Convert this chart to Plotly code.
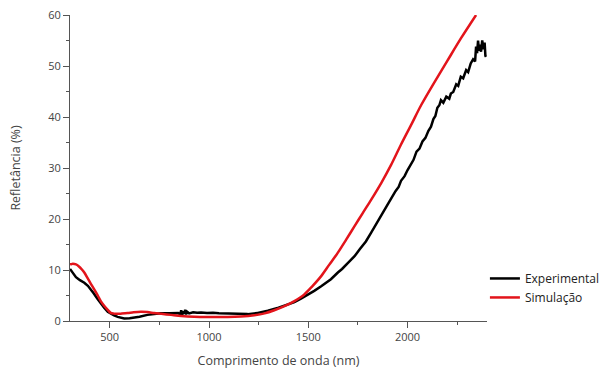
import plotly.graph_objects as go

# Experimental spectrum (wavelength nm, reflectance %)
exp_wl = [300, 315, 330, 350, 372, 390, 405, 420, 439, 455, 472, 490, 505, 522, 540, 560, 573, 600, 623, 650,
          690, 720, 758, 800, 825, 845, 855, 860, 865, 870, 875, 880, 885, 890, 900, 920, 940, 960, 990, 1020,
          1050, 1094, 1140, 1195, 1240, 1296, 1350, 1396, 1430, 1463, 1497, 1530, 1565, 1590, 1614, 1649, 1670,
          1700, 1715, 1733, 1760, 1790, 1816, 1840, 1868, 1880, 1900, 1917, 1940, 1955, 1967, 1985, 2000, 2017,
          2030, 2045, 2060, 2075, 2090, 2105, 2118, 2130, 2140, 2150, 2160, 2168, 2180, 2195, 2210, 2218, 2230,
          2245, 2255, 2268, 2280, 2295, 2305, 2318, 2330, 2340, 2345, 2350, 2355, 2360, 2365, 2370, 2376, 2382,
          2388, 2392, 2395]
exp_r = [10.2, 9.3, 8.6, 8.0, 7.5, 6.9, 6.2, 5.4, 4.3, 3.4, 2.6, 1.8, 1.4, 1.1, 0.8, 0.6, 0.5, 0.55, 0.65, 0.85,
         1.2, 1.35, 1.5, 1.5, 1.5, 1.55, 1.3, 2.1, 1.2, 1.9, 1.4, 2.2, 1.3, 1.8, 1.5, 1.7, 1.6, 1.65, 1.55, 1.6,
         1.5, 1.45, 1.4, 1.35, 1.55, 2.0, 2.6, 3.2, 3.7, 4.4, 5.1, 5.9, 6.8, 7.5, 8.2, 9.5, 10.2,
         11.4, 12.0, 12.7, 14.1, 15.6, 17.3, 18.9, 20.9, 21.8, 23.0, 24.0, 25.5, 26.3, 27.5, 28.4, 29.6, 30.9,
         31.6, 33.2, 33.8, 35.2, 35.9, 37.3, 38.1, 39.6, 40.2, 41.8, 42.3, 43.3, 42.8, 44.0, 43.6, 44.6, 44.9,
         46.4, 46.1, 47.9, 47.6, 49.2, 48.8, 50.5, 51.3, 50.9, 53.8, 52.5, 55.0, 53.0, 54.2, 52.8, 55.0, 53.3,
         54.6, 52.0, 51.8]

# Simulated spectrum
sim_wl = [300, 310, 330, 345, 360, 372, 390, 405, 422, 440, 455, 472, 490, 505, 520, 539, 560, 590, 620, 657,
          690, 724, 760, 809, 860, 926, 1000, 1094, 1160, 1228, 1280, 1329, 1380, 1430, 1480, 1520, 1565, 1605,
          1649, 1690, 1733, 1775, 1817, 1868, 1917, 1967, 2020, 2068, 2135, 2200, 2270, 2345]
sim_r = [11.1, 11.2, 11.1, 10.7, 10.1, 9.5, 8.3, 7.3, 6.2, 5.0, 3.9, 3.0, 2.2, 1.6, 1.45, 1.4, 1.45, 1.55, 1.7, 1.8,
         1.75, 1.55, 1.4, 1.2, 1.0, 0.85, 0.8, 0.8, 0.9, 1.15, 1.5, 2.1, 2.9, 3.9, 5.2, 6.8, 8.8, 11.0,
         13.4, 15.9, 18.6, 21.2, 23.8, 27.1, 30.6, 34.6, 38.6, 42.3, 46.8, 51.0, 55.5, 60.0]

x_ticks = [500, 1000, 1500, 2000]
y_ticks = [0, 10, 20, 30, 40, 50, 60]

FONT = "Open Sans"
GREY = "#444444"

fig = go.Figure()
fig.add_trace(go.Scatter(x=exp_wl, y=exp_r, mode="lines", name="Experimental",
                         line=dict(color="#000000", width=2.5)))
fig.add_trace(go.Scatter(x=sim_wl, y=sim_r, mode="lines", name="Simulação",
                         line=dict(color="#e3141b", width=2.5, shape="spline", smoothing=0.8)))

axis_common = dict(showgrid=False, zeroline=False, showline=True, linecolor="#555555", linewidth=1,
                   ticks="outside", ticklen=6, tickcolor="#555555", tickwidth=1,
                   tickfont=dict(family=FONT, size=11, color=GREY))

fig.update_layout(
    width=603, height=369,
    margin=dict(l=70, r=116, t=15, b=48, autoexpand=False),
    paper_bgcolor="white", plot_bgcolor="white",
    font=dict(family=FONT, color=GREY),
    xaxis=dict(range=[300, 2400], tickvals=x_ticks, automargin=False,
               minor=dict(tickvals=[750, 1250, 1750, 2250], ticks="outside", ticklen=3, tickcolor="#555555"),
               title=dict(text="Comprimento de onda (nm)", font=dict(family=FONT, size=12.5, color=GREY), standoff=13),
               **axis_common),
    yaxis=dict(range=[0, 60], tickvals=y_ticks, automargin=False,
               minor=dict(dtick=5, ticks="outside", ticklen=3, tickcolor="#555555"),
               title=dict(text="Refletância (%)", font=dict(family=FONT, size=12.5, color=GREY), standoff=24),
               **axis_common),
    legend=dict(x=0.995, xanchor="left", y=0.108, yanchor="middle", bgcolor="rgba(0,0,0,0)",
                font=dict(family=FONT, size=12, color="#222222"), tracegroupgap=0, itemwidth=30),
    showlegend=True,
)

fig.write_html("out.html")
